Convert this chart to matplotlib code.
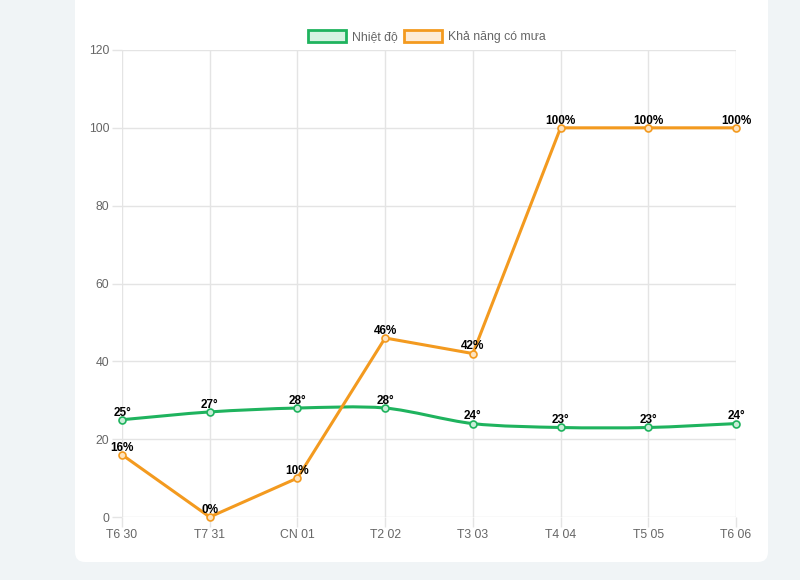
import numpy as np
import matplotlib
matplotlib.use('Agg')
import matplotlib.pyplot as plt
from matplotlib.patches import FancyBboxPatch, Rectangle
from matplotlib.path import Path
from matplotlib.patches import PathPatch

plt.rcParams['font.family'] = ['Liberation Sans', 'DejaVu Sans']

days = ['T6 30', 'T7 31', 'CN 01', 'T2 02', 'T3 03', 'T4 04', 'T5 05', 'T6 06']
temp = [25, 27, 28, 28, 24, 23, 23, 24]
rain = [16, 0, 10, 46, 42, 100, 100, 100]

green = '#1fb35e'
orange = '#f39a1f'
grid_c = '#e4e4e4'
tick_c = '#666666'

fig = plt.figure(figsize=(8, 5.8), dpi=100)
fig.patch.set_facecolor('#f0f4f6')

# white card behind the chart (pixel coords)
card = FancyBboxPatch((75, 580 - 562), 693, 600, boxstyle='round,pad=0,rounding_size=10',
                      transform=None, facecolor='white', edgecolor='none', zorder=-5)
fig.patches.append(card)

ax = fig.add_axes([122 / 800, 1 - 517 / 580, (736 - 122) / 800, (517 - 50) / 580])
ax.set_zorder(3)
ax.set_facecolor('none')
x = np.arange(len(days))
ax.set_xlim(0, len(days) - 1)
ax.set_ylim(0, 120)
ax.set_yticks(range(0, 121, 20))
ax.set_xticks(x)
ax.set_xticklabels(days)
ax.grid(True, color=grid_c, linewidth=1)
for s in ax.spines.values():
    s.set_visible(False)
ax.tick_params(colors=grid_c, labelcolor=tick_c, labelsize=8.8, length=7, width=1, pad=2)
ax.set_axisbelow(True)

fig.canvas.draw()


def smooth_path(xs, ys, tension=0.3):
    # chart.js style spline, computed in pixel space
    pts = ax.transData.transform(np.column_stack([xs, ys]))
    n = len(pts)
    cps = []
    for i in range(n):
        prev = pts[max(i - 1, 0)]
        cur = pts[i]
        nxt = pts[min(i + 1, n - 1)]
        d01 = np.hypot(*(cur - prev))
        d12 = np.hypot(*(nxt - cur))
        tot = d01 + d12
        s01 = d01 / tot if tot else 0
        s12 = d12 / tot if tot else 0
        cps.append((cur - tension * s01 * (nxt - prev), cur + tension * s12 * (nxt - prev)))
    verts = [pts[0]]
    codes = [Path.MOVETO]
    for i in range(n - 1):
        verts += [cps[i][1], cps[i + 1][0], pts[i + 1]]
        codes += [Path.CURVE4] * 3
    verts = ax.transData.inverted().transform(np.array(verts))
    return Path(verts, codes)


ax.add_patch(PathPatch(smooth_path(x, temp), facecolor='none', edgecolor=green, lw=2.2, zorder=3))
ax.plot(x, rain, color=orange, lw=2.2, zorder=3)
ax.plot(x, temp, 'o', ms=5, mfc='#c9eed8', mec=green, mew=1.2, zorder=4, clip_on=False)
ax.plot(x, rain, 'o', ms=5, mfc='#fde3c0', mec=orange, mew=1.2, zorder=4, clip_on=False)

for xi, t in zip(x, temp):
    ax.annotate(f'{t}°', (xi, t), xytext=(0, 0.8), textcoords='offset points', ha='center',
                va='bottom', fontsize=8.5, fontweight='bold', color='black', zorder=5,
                annotation_clip=False)
for xi, r in zip(x, rain):
    ax.annotate(f'{r}%', (xi, r), xytext=(0, 0.8), textcoords='offset points', ha='center',
                va='bottom', fontsize=8.5, fontweight='bold', color='black', zorder=5,
                annotation_clip=False)

# legend drawn like chart.js boxes
items = [('Nhiệt độ', green, '#d6f3e2', 308), ('Khả năng có mưa', orange, '#fdebd6', 404)]
for label, ec, fc, px in items:
    fig.patches.append(Rectangle((px, 580 - 42), 38, 12, transform=None, facecolor=fc,
                                 edgecolor=ec, linewidth=2.0, zorder=2))
    fig.text((px + 44) / 800, 1 - 40 / 580, label, ha='left', va='baseline', fontsize=8.8,
             color=tick_c)

fig.savefig('out.png', dpi=100, facecolor=fig.get_facecolor())
